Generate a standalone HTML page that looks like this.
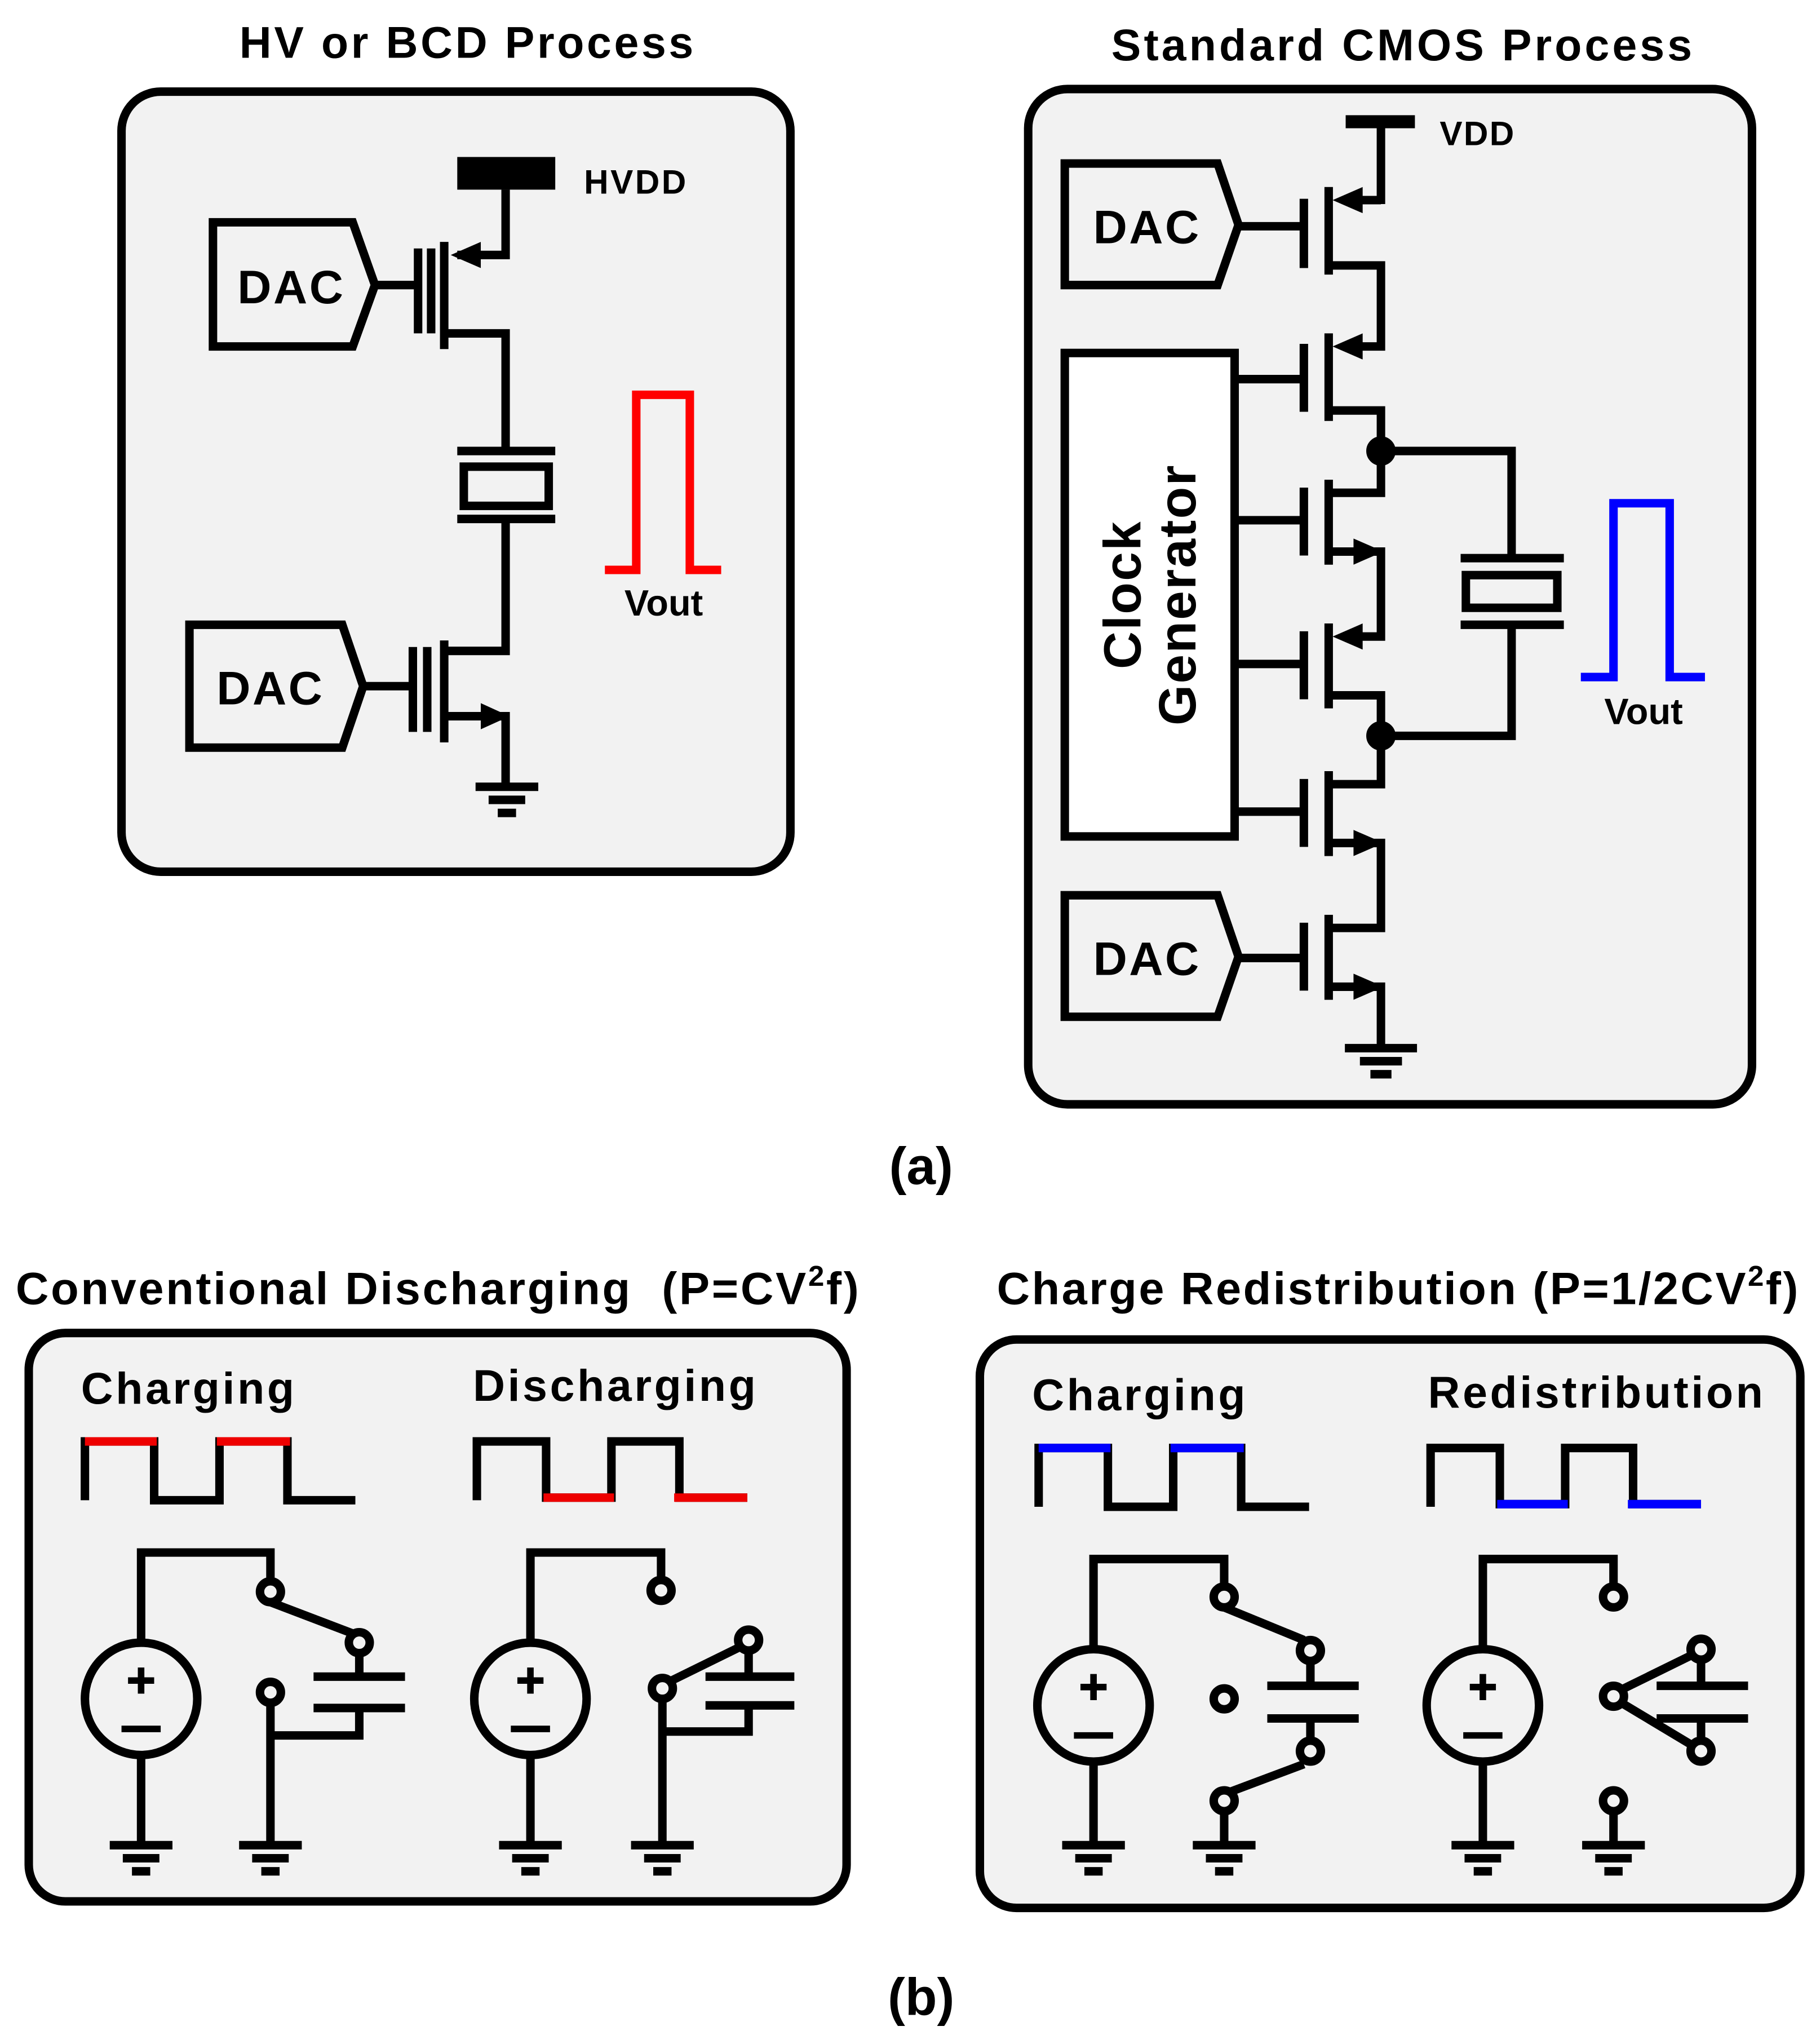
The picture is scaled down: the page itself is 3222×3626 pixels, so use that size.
<!DOCTYPE html>
<html><head><meta charset="utf-8"><style>html,body{margin:0;padding:0;background:#fff}svg{display:block}</style></head>
<body>
<svg width="3222" height="3626" viewBox="0 0 1390 1564" xmlns="http://www.w3.org/2000/svg" font-family="Liberation Sans, sans-serif" font-weight="bold">
<defs>
<g id="gnd"><line x1="-24" y1="0" x2="24" y2="0"/><line x1="-14" y1="10" x2="14" y2="10"/><line x1="-7" y1="20" x2="7" y2="20"/></g>
</defs>
<rect width="1390" height="1564" fill="#fff"/>
<g stroke="#000" stroke-width="6.5" fill="none">
<!-- Panel A1 -->
<rect x="93" y="70" width="512" height="597" rx="30" fill="#f2f2f2"/>
<rect x="350" y="120" width="75" height="25" fill="#000" stroke="none"/>
<polyline points="387,145 387,195 350,195"/>
<polygon points="345,195 368,185 368,205" fill="#000" stroke="none"/>
<line x1="340" y1="185" x2="340" y2="267"/>
<line x1="320" y1="190" x2="320" y2="255"/><line x1="330" y1="190" x2="330" y2="255"/>
<polyline points="340,255 387,255 387,345"/>
<polygon points="163,170 270,170 287,218 270,265 163,265" />
<line x1="287" y1="218" x2="318" y2="218"/>
<line x1="350" y1="345" x2="425" y2="345"/><line x1="350" y1="397" x2="425" y2="397"/>
<rect x="355" y="357" width="65" height="30"/>
<polyline points="387,397 387,498 340,498"/>
<line x1="340" y1="490" x2="340" y2="568"/>
<line x1="316" y1="495" x2="316" y2="560"/><line x1="327" y1="495" x2="327" y2="560"/>
<polyline points="340,548 387,548 387,600"/>
<polygon points="390,548 368,538 368,558" fill="#000" stroke="none"/>
<use href="#gnd" x="388" y="602"/>
<polygon points="145,478 262,478 278,525 262,572 145,572"/>
<line x1="278" y1="525" x2="315" y2="525"/>
<polyline stroke="#f00" points="463,436 487,436 487,302 528,302 528,436 552,436"/>

<!-- Panel A2 -->
<rect x="787" y="68" width="554" height="777" rx="30" fill="#f2f2f2"/>
<line x1="1030" y1="93" x2="1083" y2="93" stroke-width="10"/>
<line x1="1057" y1="93" x2="1057" y2="156"/>
<line x1="1017" y1="143" x2="1017" y2="210"/><line x1="998" y1="152" x2="998" y2="205"/>
<line x1="1030" y1="153" x2="1057" y2="153"/><polygon points="1020,153 1043,143 1043,163" fill="#000" stroke="none"/>
<polyline points="1017,203 1057,203 1057,265 1030,265"/>
<polygon points="1020,265 1043,255 1043,275" fill="#000" stroke="none"/>
<line x1="1017" y1="255" x2="1017" y2="322"/><line x1="998" y1="263" x2="998" y2="315"/>
<polyline points="1017,314 1057,314 1057,377 1017,377"/>
<line x1="1017" y1="367" x2="1017" y2="432"/><line x1="998" y1="373" x2="998" y2="425"/>
<polyline points="1017,422 1057,422 1057,487 1030,487"/>
<polygon points="1059,422 1036,412 1036,432" fill="#000" stroke="none"/>
<polygon points="1020,487 1043,477 1043,497" fill="#000" stroke="none"/>
<line x1="1017" y1="477" x2="1017" y2="542"/><line x1="998" y1="483" x2="998" y2="535"/>
<polyline points="1017,532 1057,532 1057,600 1017,600"/>
<line x1="1017" y1="590" x2="1017" y2="655"/><line x1="998" y1="596" x2="998" y2="648"/>
<polyline points="1017,645 1057,645 1057,710 1017,710"/>
<polygon points="1059,645 1036,635 1036,655" fill="#000" stroke="none"/>
<line x1="1017" y1="700" x2="1017" y2="765"/><line x1="998" y1="706" x2="998" y2="758"/>
<polyline points="1017,755 1057,755 1057,800"/>
<polygon points="1059,755 1036,745 1036,765" fill="#000" stroke="none"/>
<g transform="translate(1057,802) scale(1.15,1)"><use href="#gnd"/></g>
<circle cx="1057" cy="345" r="8" fill="#000"/><circle cx="1057" cy="563" r="8" fill="#000"/>
<polyline points="1057,345 1157,345 1157,427"/><polyline points="1157,478 1157,563 1057,563"/>
<line x1="1118" y1="427" x2="1197" y2="427"/><line x1="1118" y1="478" x2="1197" y2="478"/>
<rect x="1122" y="440" width="70" height="25"/>
<polygon points="815,125 932,125 948,172 932,218 815,218"/>
<line x1="948" y1="173" x2="998" y2="173"/>
<polygon points="815,685 932,685 948,732 932,778 815,778"/>
<line x1="948" y1="733" x2="998" y2="733"/>
<rect x="815" y="270" width="130" height="370" fill="#fff"/>
<line x1="945" y1="290" x2="998" y2="290"/><line x1="945" y1="398" x2="998" y2="398"/>
<line x1="945" y1="508" x2="998" y2="508"/><line x1="945" y1="621" x2="998" y2="621"/>
<polyline stroke="#00f" points="1210,518 1235,518 1235,385 1278,385 1278,518 1305,518"/>

<!-- Panel B1 -->
<rect x="22" y="1020" width="626" height="435" rx="28" fill="#f2f2f2"/>
<polyline points="65,1148 65,1103 118,1103 118,1148 168,1148 168,1103 220,1103 220,1148 272,1148"/>
<line stroke="#e00" x1="65" y1="1103" x2="120" y2="1103"/><line stroke="#e00" x1="166" y1="1103" x2="222" y2="1103"/>
<polyline points="365,1148 365,1103 418,1103 418,1146 468,1146 468,1103 520,1103 520,1146 572,1146"/>
<line stroke="#e00" x1="416" y1="1146" x2="470" y2="1146"/><line stroke="#e00" x1="516" y1="1146" x2="572" y2="1146"/>
<circle cx="108" cy="1300" r="43"/>
<polyline points="108,1257 108,1188 207,1188 207,1210"/>
<circle cx="207" cy="1218" r="8"/><line x1="207" y1="1226" x2="270" y2="1250"/>
<circle cx="275" cy="1257" r="8"/><line x1="275" y1="1265" x2="275" y2="1283"/>
<line x1="240" y1="1283" x2="310" y2="1283"/><line x1="240" y1="1307" x2="310" y2="1307"/>
<polyline points="275,1307 275,1328 207,1328"/>
<circle cx="207" cy="1295" r="8"/><line x1="207" y1="1303" x2="207" y2="1410"/>
<line x1="108" y1="1343" x2="108" y2="1410"/>
<use href="#gnd" x="108" y="1412"/><use href="#gnd" x="207" y="1412"/>
<circle cx="406" cy="1300" r="43"/>
<polyline points="406,1257 406,1188 506,1188 506,1210"/>
<circle cx="506" cy="1217" r="8"/>
<circle cx="573" cy="1255" r="8"/><line x1="512" y1="1287" x2="567" y2="1260"/>
<line x1="573" y1="1263" x2="573" y2="1283"/>
<line x1="540" y1="1283" x2="608" y2="1283"/><line x1="540" y1="1305" x2="608" y2="1305"/>
<polyline points="573,1305 573,1325 507,1325"/>
<circle cx="507" cy="1292" r="8"/><line x1="507" y1="1300" x2="507" y2="1410"/>
<line x1="406" y1="1343" x2="406" y2="1410"/>
<use href="#gnd" x="406" y="1412"/><use href="#gnd" x="507" y="1412"/>

<!-- Panel B2 -->
<rect x="750" y="1025" width="628" height="435" rx="28" fill="#f2f2f2"/>
<polyline points="795,1153 795,1108 848,1108 848,1153 898,1153 898,1108 950,1108 950,1153 1002,1153"/>
<line stroke="#00f" x1="795" y1="1108" x2="850" y2="1108"/><line stroke="#00f" x1="896" y1="1108" x2="952" y2="1108"/>
<polyline points="1095,1153 1095,1108 1148,1108 1148,1151 1198,1151 1198,1108 1250,1108 1250,1151 1302,1151"/>
<line stroke="#00f" x1="1146" y1="1151" x2="1200" y2="1151"/><line stroke="#00f" x1="1246" y1="1151" x2="1302" y2="1151"/>
<circle cx="837" cy="1305" r="43"/>
<polyline points="837,1262 837,1193 937,1193 937,1214"/>
<circle cx="937" cy="1222" r="8"/><line x1="937" y1="1230" x2="998" y2="1255"/>
<circle cx="1003" cy="1263" r="8"/><line x1="1003" y1="1271" x2="1003" y2="1290"/>
<line x1="970" y1="1290" x2="1040" y2="1290"/><line x1="970" y1="1315" x2="1040" y2="1315"/>
<line x1="1003" y1="1315" x2="1003" y2="1332"/>
<circle cx="1003" cy="1340" r="8"/><line x1="998" y1="1350" x2="942" y2="1371"/>
<circle cx="937" cy="1378" r="8"/><line x1="937" y1="1386" x2="937" y2="1410"/>
<circle cx="937" cy="1300" r="8"/>
<line x1="837" y1="1348" x2="837" y2="1410"/>
<use href="#gnd" x="837" y="1412"/><use href="#gnd" x="937" y="1412"/>
<circle cx="1135" cy="1305" r="43"/>
<polyline points="1135,1262 1135,1193 1235,1193 1235,1214"/>
<circle cx="1235" cy="1222" r="8"/>
<circle cx="1235" cy="1298" r="8"/>
<line x1="1241" y1="1293" x2="1296" y2="1266"/><line x1="1241" y1="1303" x2="1296" y2="1336"/>
<circle cx="1302" cy="1262" r="8"/><circle cx="1302" cy="1340" r="8"/>
<line x1="1302" y1="1270" x2="1302" y2="1290"/><line x1="1302" y1="1315" x2="1302" y2="1332"/>
<line x1="1268" y1="1290" x2="1338" y2="1290"/><line x1="1268" y1="1315" x2="1338" y2="1315"/>
<circle cx="1235" cy="1378" r="8"/><line x1="1235" y1="1386" x2="1235" y2="1410"/>
<line x1="1135" y1="1348" x2="1135" y2="1410"/>
<use href="#gnd" x="1135" y="1412"/><use href="#gnd" x="1235" y="1412"/>
</g>
<g stroke="#000" stroke-width="5">
<line x1="108" y1="1276" x2="108" y2="1296"/><line x1="98" y1="1286" x2="118" y2="1286"/><line x1="93" y1="1323" x2="123" y2="1323"/>
<line x1="406" y1="1276" x2="406" y2="1296"/><line x1="396" y1="1286" x2="416" y2="1286"/><line x1="391" y1="1323" x2="421" y2="1323"/>
<line x1="837" y1="1281" x2="837" y2="1301"/><line x1="827" y1="1291" x2="847" y2="1291"/><line x1="822" y1="1328" x2="852" y2="1328"/>
<line x1="1135" y1="1281" x2="1135" y2="1301"/><line x1="1125" y1="1291" x2="1145" y2="1291"/><line x1="1120" y1="1328" x2="1150" y2="1328"/>
</g>
<g fill="#000">
<text x="358" y="44" font-size="34" text-anchor="middle" letter-spacing="2">HV or BCD Process</text>
<text x="1074" y="46" font-size="34" text-anchor="middle" letter-spacing="2.2">Standard CMOS Process</text>
<text x="447" y="148" font-size="26" letter-spacing="1.5">HVDD</text>
<text x="1102" y="111" font-size="26" letter-spacing="1">VDD</text>
<text x="223" y="232" font-size="36" text-anchor="middle" letter-spacing="1.5">DAC</text>
<text x="207" y="539" font-size="36" text-anchor="middle" letter-spacing="1.5">DAC</text>
<text x="878" y="186" font-size="36" text-anchor="middle" letter-spacing="1.5">DAC</text>
<text x="878" y="746" font-size="36" text-anchor="middle" letter-spacing="1.5">DAC</text>
<text x="508" y="471" font-size="28" text-anchor="middle">Vout</text>
<text x="1258" y="554" font-size="28" text-anchor="middle">Vout</text>
<text transform="translate(873,455) rotate(-90)" font-size="40" text-anchor="middle" letter-spacing="1">Clock</text>
<text transform="translate(915,455) rotate(-90)" font-size="40" text-anchor="middle" letter-spacing="1">Generator</text>
<text x="705" y="906" font-size="40" text-anchor="middle">(a)</text>
<text x="705" y="1542" font-size="40" text-anchor="middle">(b)</text>
<text x="12" y="998" font-size="35" letter-spacing="1.6" xml:space="preserve">Conventional Discharging  (P=CV<tspan font-size="22" dy="-14">2</tspan><tspan dy="14">f)</tspan></text>
<text x="763" y="998" font-size="35" letter-spacing="1.5">Charge Redistribution (P=1/2CV<tspan font-size="22" dy="-14">2</tspan><tspan dy="14">f)</tspan></text>
<text x="62" y="1074" font-size="34" letter-spacing="2">Charging</text>
<text x="362" y="1072" font-size="34" letter-spacing="2">Discharging</text>
<text x="790" y="1079" font-size="34" letter-spacing="2">Charging</text>
<text x="1093" y="1077" font-size="34" letter-spacing="2">Redistribution</text>
</g>
</svg>
</body></html>
